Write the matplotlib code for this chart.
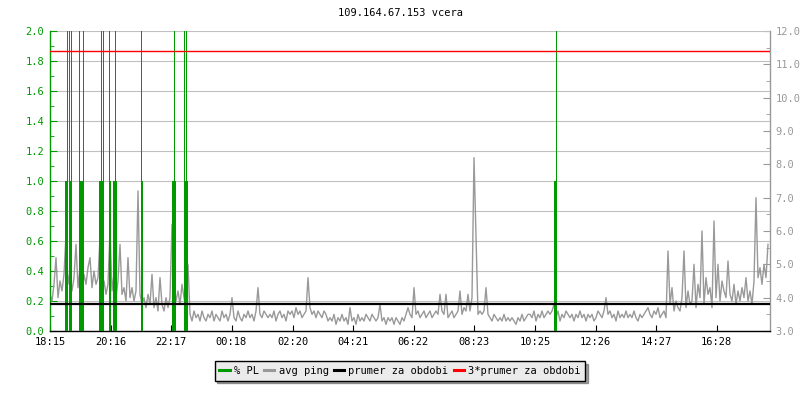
#!/usr/bin/env python3
"""Ping / packet loss chart for 109.164.67.153, previous day (rrd style)."""

import matplotlib

matplotlib.use("Agg")
import matplotlib.pyplot as plt
import numpy as np
from matplotlib.lines import Line2D

matplotlib.rcParams.update(
    {
        "font.family": ["DejaVu Sans Mono"],
        "font.size": 7.5,
    }
)

GREEN = "#009900"
PING_GRAY = "#999999"
GRID = "#c0c0c0"

TITLE = "109.164.67.153 vcera"

# x axis: minutes since 18:15
tick_minutes = [0, 121, 242, 363, 485, 606, 727, 848, 970, 1091, 1212, 1333]
tick_labels = ["18:15", "20:16", "22:17", "00:18", "02:20", "04:21",
               "06:22", "08:23", "10:25", "12:26", "14:27", "16:28"]

# avg ping [ms], one sample every 4 minutes
ping_step = 4
ping_ms = [
    4.1, 3.9, 4.4, 5.2, 4.0, 4.5, 4.2, 4.7, 5.9, 4.4,
    4.8, 4.2, 4.6, 5.6, 4.3, 4.9, 4.1, 4.7, 4.4, 4.9,
    5.2, 4.3, 4.8, 4.4, 4.6, 5.8, 4.2, 4.5, 4.1, 4.4,
    6.0, 4.2, 4.7, 4.0, 4.5, 5.6, 4.1, 4.3, 3.9, 5.2,
    4.0, 4.3, 3.9, 4.2, 7.2, 4.1, 3.8, 4.0, 3.7, 4.1,
    3.8, 4.7, 3.7, 4.0, 3.6, 4.6, 3.8, 3.6, 4.0, 3.7,
    4.0, 6.2, 4.4, 3.9, 4.2, 3.8, 4.4, 4.0, 3.7, 5.0,
    3.5, 3.3, 3.6, 3.4, 3.5, 3.3, 3.6, 3.4, 3.3, 3.5,
    3.4, 3.6, 3.3, 3.5, 3.4, 3.3, 3.6, 3.4, 3.5, 3.3,
    3.5, 4.0, 3.4, 3.3, 3.6, 3.4, 3.3, 3.5, 3.4, 3.6,
    3.4, 3.5, 3.3, 3.6, 4.3, 3.5, 3.4, 3.6, 3.5, 3.4,
    3.5, 3.4, 3.6, 3.3, 3.5, 3.6, 3.4, 3.5, 3.3, 3.6,
    3.5, 3.6, 3.4, 3.7, 3.5, 3.6, 3.4, 3.5, 3.6, 4.6,
    3.7, 3.5, 3.6, 3.4, 3.6, 3.5, 3.4, 3.6, 3.5, 3.3,
    3.4, 3.3, 3.5, 3.2, 3.4, 3.3, 3.5, 3.3, 3.4, 3.2,
    3.7, 3.3, 3.4, 3.2, 3.5, 3.3, 3.4, 3.3, 3.5, 3.4,
    3.3, 3.5, 3.4, 3.3, 3.4, 3.8, 3.3, 3.4, 3.2, 3.4,
    3.3, 3.4, 3.2, 3.4, 3.3, 3.2, 3.4, 3.3, 3.5, 3.7,
    3.5, 3.4, 4.3, 3.5, 3.6, 3.4, 3.5, 3.6, 3.4, 3.5,
    3.6, 3.4, 3.5, 3.6, 3.5, 4.1, 3.6, 3.5, 4.1, 3.4,
    3.5, 3.6, 3.4, 3.5, 3.6, 4.2, 3.5, 3.7, 3.6, 4.1,
    3.6, 4.0, 8.2, 5.8, 3.5, 3.6, 3.5, 3.6, 4.3, 3.5,
    3.4, 3.3, 3.5, 3.4, 3.3, 3.4, 3.3, 3.5, 3.3, 3.4,
    3.3, 3.4, 3.3, 3.2, 3.4, 3.3, 3.5, 3.3, 3.4, 3.5,
    3.5, 3.4, 3.6, 3.3, 3.5, 3.4, 3.6, 3.4, 3.5, 3.6,
    3.5, 3.6, 3.8, 3.4, 3.6, 3.3, 3.5, 3.4, 3.6, 3.5,
    3.4, 3.5, 3.3, 3.5, 3.4, 3.6, 3.4, 3.5, 3.3, 3.5,
    3.4, 3.5, 3.3, 3.4, 3.6, 3.5, 3.4, 3.6, 4.0, 3.5,
    3.6, 3.4, 3.5, 3.3, 3.6, 3.4, 3.5, 3.4, 3.6, 3.4,
    3.5, 3.4, 3.6, 3.4, 3.3, 3.5, 3.4, 3.5, 3.6, 3.7,
    3.5, 3.4, 3.6, 3.5, 3.7, 3.4, 3.5, 3.6, 3.4, 5.4,
    3.8, 4.3, 3.6, 3.9, 3.7, 3.6, 4.0, 5.4, 3.7, 4.2,
    3.8, 3.9, 5.0, 3.7, 4.4, 4.0, 6.0, 3.8, 4.6, 4.1,
    4.3, 3.7, 6.3, 4.0, 5.0, 3.9, 4.5, 4.2, 4.0, 5.1,
    4.1, 3.9, 4.4, 3.8, 4.2, 3.9, 4.3, 4.0, 4.6, 3.9,
    4.2, 3.8, 4.5, 7.0, 4.6, 4.9, 4.4, 5.0, 4.6, 5.6,
]

# packet loss [%], minutes since 18:15 (2-minute steps)
pl_minutes = [30, 32, 36, 38, 40, 56, 58, 62, 64, 98, 100, 102, 104,
              116, 118, 126, 128, 130, 180, 182, 244, 246, 248,
              266, 268, 270, 272, 1008, 1010]
pl_percent = [1, 100, 100, 1, 100, 100, 1, 1, 100, 1, 100, 1, 100,
              100, 1, 1, 100, 1, 100, 1, 1, 100, 1,
              100, 1, 100, 1, 1, 100]

ping_mean = 3.8  # prumer za obdobi


def ms_to_left(ms):
    return (np.asarray(ms, dtype=float) - 3.0) / 4.5


def left_to_ms(v):
    return 3.0 + 4.5 * np.asarray(v, dtype=float)


fig = plt.figure(figsize=(8, 4), dpi=100)
ax = fig.add_axes([50 / 800, 1 - 331 / 400, 720 / 800, 300 / 400])

ax.set_xlim(0, 1440)
ax.set_ylim(0, 2.0)

# horizontal grid
ax.set_yticks(np.arange(0, 2.01, 0.2))
ax.set_yticks(np.arange(0.1, 2.0, 0.2), minor=True)
ax.grid(axis="y", which="major", color=GRID, linewidth=0.8, zorder=0)
ax.set_axisbelow(True)

ping_time = np.arange(len(ping_ms)) * ping_step
ax.plot(ping_time, ms_to_left(ping_ms), color=PING_GRAY, linewidth=1.0, zorder=2)

# short 1 % losses are drawn as wider blocks, the big ones as thin spikes
pl_arr = np.asarray(pl_percent, dtype=float)
pl_t = np.asarray(pl_minutes, dtype=float)
small = pl_arr <= 2
ax.bar(pl_t[small], pl_arr[small], width=4, align="edge", color=GREEN,
       linewidth=0, antialiased=False, zorder=3)
ax.vlines(pl_t[~small] + 1, 0, pl_arr[~small], color=GREEN, linewidth=0.72,
          antialiased=False, zorder=3)

ax.axhline(ms_to_left(ping_mean), color="black", linewidth=1.6, zorder=4)
ax.axhline(ms_to_left(3 * ping_mean), color="#ff0000", linewidth=1.0, zorder=4)

# left axis
ax.spines["top"].set_visible(False)
ax.spines["right"].set_visible(False)
ax.spines["left"].set_color(GREEN)
ax.spines["left"].set_linewidth(1.0)
ax.spines["bottom"].set_linewidth(1.0)
ax.set_yticklabels([f"{v:.1f}" for v in np.arange(0, 2.01, 0.2)])
ax.tick_params(axis="y", which="major", direction="in", length=5, color=GREEN,
               labelcolor=GREEN, pad=4)
ax.tick_params(axis="y", which="minor", direction="in", length=3, color=GREEN)

# x axis
ax.set_xticks(tick_minutes)
ax.set_xticklabels(tick_labels)
ax.tick_params(axis="x", direction="in", length=4, color="black", pad=4)

# right axis (ping in ms)
sec = ax.secondary_yaxis("right", functions=(left_to_ms, ms_to_left))
sec.set_yticks(np.arange(3, 12.01, 1.0))
sec.set_yticks(np.arange(3.5, 12.0, 1.0), minor=True)
sec.set_yticklabels([f"{v:.1f}" for v in np.arange(3, 12.01, 1.0)])
sec.spines["right"].set_color(PING_GRAY)
sec.spines["right"].set_linewidth(1.0)
sec.tick_params(axis="y", which="major", direction="in", length=5,
                color=PING_GRAY, labelcolor=PING_GRAY, pad=4)
sec.tick_params(axis="y", which="minor", direction="in", length=3,
                color=PING_GRAY)

fig.text(0.5, 1 - 13 / 400, TITLE, ha="center", va="center", fontsize=7.5)

handles = [
    Line2D([], [], color=GREEN, linewidth=2.2),
    Line2D([], [], color=PING_GRAY, linewidth=2.2),
    Line2D([], [], color="black", linewidth=2.2),
    Line2D([], [], color="#ff0000", linewidth=2.2),
]
labels = ["% PL", "avg ping", "prumer za obdobi", "3*prumer za obdobi"]
leg = fig.legend(handles, labels, loc="center", bbox_to_anchor=(0.5, 1 - 371 / 400),
                 ncol=4, frameon=True, fancybox=False, shadow=True,
                 handlelength=1.0, handletextpad=0.4, columnspacing=0.5,
                 borderpad=0.45, fontsize=7.5)
leg.get_frame().set_facecolor("#ebebeb")
leg.get_frame().set_edgecolor("black")
leg.get_frame().set_linewidth(1.0)
leg.get_frame().set_alpha(1.0)

fig.savefig("out.png", dpi=100)
